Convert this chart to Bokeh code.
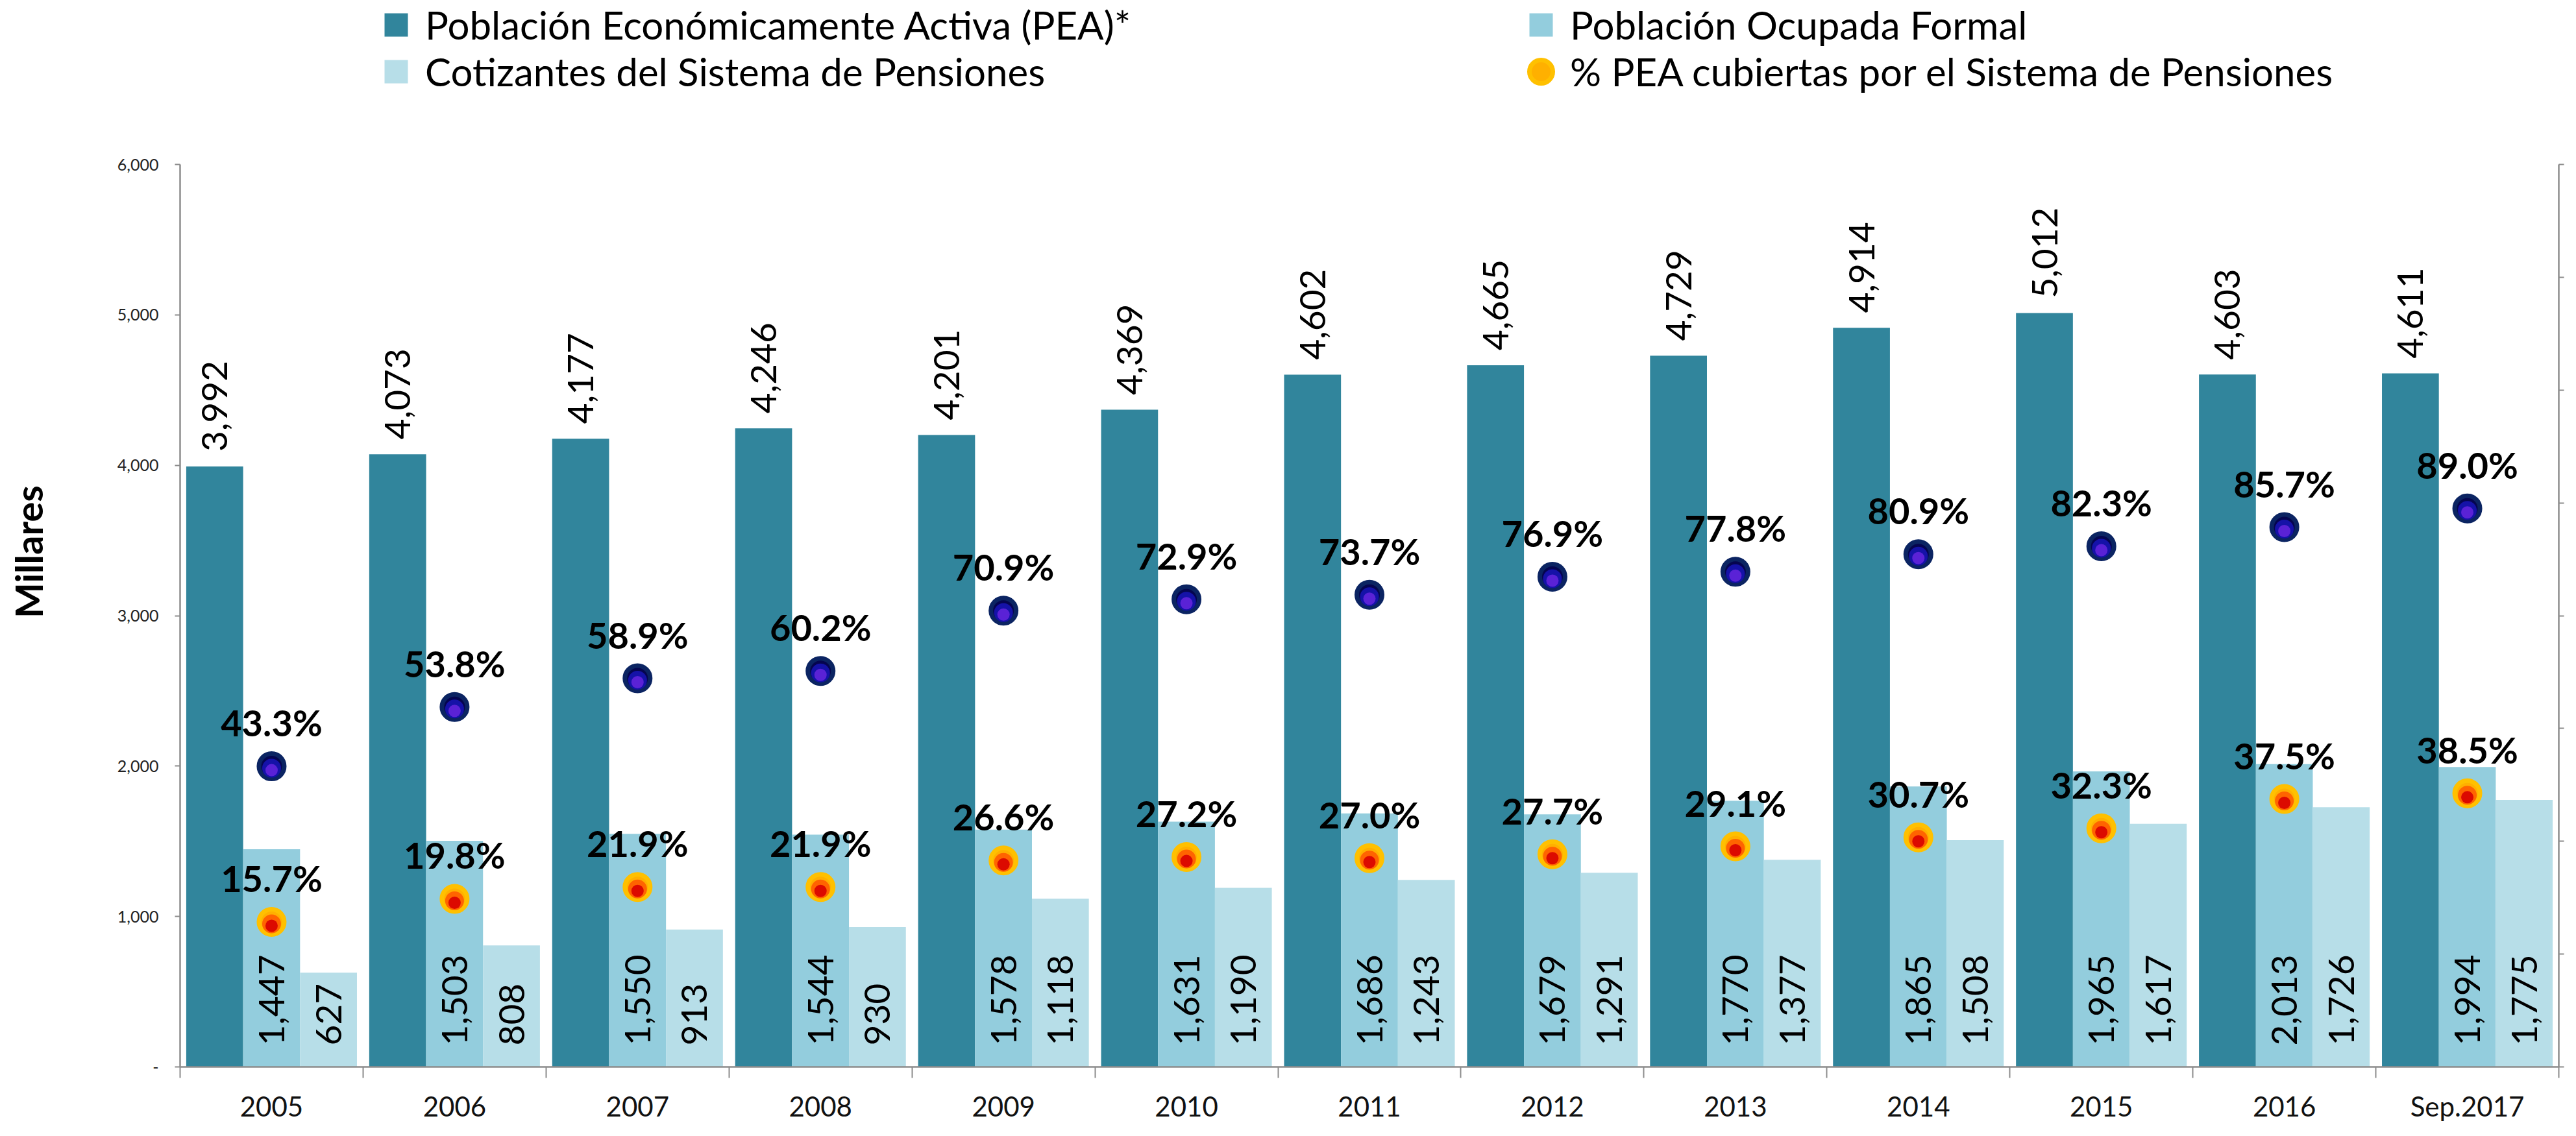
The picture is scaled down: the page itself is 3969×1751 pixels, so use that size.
import math
from bokeh.plotting import figure
from bokeh.models import (ColumnDataSource, Range1d, LinearAxis, FixedTicker, LabelSet,
                          Legend, LegendItem, NumeralTickFormatter, CustomJSTickFormatter)
from bokeh.core.properties import value
from bokeh.embed import file_html
from bokeh.resources import INLINE

# ---------------- data ----------------
categories = ["2005", "2006", "2007", "2008", "2009", "2010", "2011", "2012",
              "2013", "2014", "2015", "2016", "Sep.2017"]
pea = [3992, 4073, 4177, 4246, 4201, 4369, 4602, 4665, 4729, 4914, 5012, 4603, 4611]
ocupada = [1447, 1503, 1550, 1544, 1578, 1631, 1686, 1679, 1770, 1865, 1965, 2013, 1994]
cotizantes = [627, 808, 913, 930, 1118, 1190, 1243, 1291, 1377, 1508, 1617, 1726, 1775]
pct_cotiz_ocupada = [43.3, 53.8, 58.9, 60.2, 70.9, 72.9, 73.7, 76.9, 77.8, 80.9, 82.3, 85.7, 89.0]
pct_cotiz_pea = [15.7, 19.8, 21.9, 21.9, 26.6, 27.2, 27.0, 27.7, 29.1, 30.7, 32.3, 37.5, 38.5]
y_ticks = [0, 1000, 2000, 3000, 4000, 5000, 6000]
pct_ticks = [-10, 10, 30, 50, 70, 90, 110, 130, 150]

# ---------------- layout constants (reference pixel coords) ----------------
W, H = 3953, 1735
OFF = 8
FL, FT, FR, FB = 285, 261, 3950, 1652     # axis box in the reference
FH = FB - FT
FRAME_BOTTOM = FB - OFF                   # figure coords; frame runs from top of canvas
Y_MAX, PCT_MIN, PCT_MAX = 6000, -10, 150
y_top = Y_MAX * FRAME_BOTTOM / FH
pct_top = PCT_MIN + (PCT_MAX - PCT_MIN) * FRAME_BOTTOM / FH
upp = (PCT_MAX - PCT_MIN) / FH            # pct units per pixel
BW = 0.311

C_PEA = "#31859C"
C_OCU = "#93CDDD"
C_COT = "#B7DEE8"
AX = "#8C8C8C"

n = len(categories)
xc = [i + 0.5 for i in range(n)]
src = ColumnDataSource(dict(
    x=xc,
    x_pea=[v - BW for v in xc], x_ocu=xc, x_cot=[v + BW for v in xc],
    pea=pea, ocu=ocupada, cot=cotizantes,
    zero=[0] * n,
    pea_txt=[f"{v:,}" for v in pea],
    ocu_txt=[f"{v:,}" for v in ocupada],
    cot_txt=[f"{v:,}" for v in cotizantes],
    pb=pct_cotiz_ocupada, po=pct_cotiz_pea,
    pb1=[v - 3 * upp for v in pct_cotiz_ocupada], pb2=[v - 6 * upp for v in pct_cotiz_ocupada],
    po1=[v - 3 * upp for v in pct_cotiz_pea], po2=[v - 6 * upp for v in pct_cotiz_pea],
    pb_txt=[f"{v:.1f}%" for v in pct_cotiz_ocupada],
    po_txt=[f"{v:.1f}%" for v in pct_cotiz_pea],
))

p = figure(width=W, height=H, x_range=Range1d(0, n), y_range=Range1d(0, y_top),
           output_backend="svg", toolbar_location=None, x_axis_type=None, y_axis_type=None,
           min_border_left=FL - OFF, min_border_right=W - (FR - OFF),
           min_border_top=0, min_border_bottom=H - FRAME_BOTTOM)
p.extra_y_ranges = {"pct": Range1d(PCT_MIN, pct_top)}
p.outline_line_color = None
p.background_fill_color = "white"
p.border_fill_color = "white"

# axes
yax = LinearAxis(ticker=FixedTicker(ticks=y_ticks), formatter=NumeralTickFormatter(format="0,0"),
                 bounds=(0, Y_MAX))
yax.major_label_overrides = {0: "-"}
yax.major_label_text_font = "Lato"
yax.major_label_text_font_size = "25px"
yax.major_label_text_color = "#222222"
yax.major_label_standoff = 25
yax.major_tick_out = 8
yax.major_tick_in = 0
yax.minor_tick_out = 0
yax.axis_line_color = AX
yax.axis_line_width = 2.5
yax.major_tick_line_color = AX
yax.major_tick_line_width = 2
yax.axis_label = "Millares" + "\u00a0" * 4
yax.axis_label_text_font = "Lato"
yax.axis_label_text_font_style = "bold"
yax.axis_label_text_font_size = "58px"
yax.axis_label_text_color = "black"
yax.axis_label_standoff = 100
p.add_layout(yax, "left")

rax = LinearAxis(y_range_name="pct", ticker=FixedTicker(ticks=pct_ticks),
                 formatter=CustomJSTickFormatter(code="return ''"), bounds=(PCT_MIN, PCT_MAX))
rax.major_label_standoff = 0
rax.major_tick_out = 8
rax.major_tick_in = 0
rax.minor_tick_out = 0
rax.axis_line_color = AX
rax.axis_line_width = 2.5
rax.major_tick_line_color = AX
rax.major_tick_line_width = 2
p.add_layout(rax, "right")

xax = LinearAxis(ticker=FixedTicker(ticks=xc, minor_ticks=list(range(n + 1))))
xax.major_label_overrides = {xc[i]: categories[i] for i in range(n)}
xax.major_label_text_font = "Lato"
xax.major_label_text_font_size = "42px"
xax.major_label_text_color = "#111111"
xax.major_label_standoff = 18
xax.major_tick_out = 0
xax.major_tick_in = 0
xax.minor_tick_out = 17
xax.minor_tick_in = 0
xax.minor_tick_line_color = AX
xax.minor_tick_line_width = 2
xax.axis_line_color = AX
xax.axis_line_width = 2.5
p.add_layout(xax, "below")

p.xgrid.visible = False
p.ygrid.visible = False

# bars
p.vbar(x="x_pea", top="pea", width=BW, source=src, fill_color=C_PEA, line_color=None)
p.vbar(x="x_ocu", top="ocu", width=BW, source=src, fill_color=C_OCU, line_color=None)
p.vbar(x="x_cot", top="cot", width=BW, source=src, fill_color=C_COT, line_color=None)

num_style = dict(angle=math.pi / 2, text_align="left", text_baseline="middle",
                 text_font=value("Lato"), text_font_size=value("55px"), text_color="black")
p.add_layout(LabelSet(x="x_pea", y="pea", text="pea_txt", y_offset=23, source=src, **num_style))
p.add_layout(LabelSet(x="x_ocu", y="zero", text="ocu_txt", y_offset=33, source=src, **num_style))
p.add_layout(LabelSet(x="x_cot", y="zero", text="cot_txt", y_offset=33, source=src, **num_style))

# dots (layered for a gradient look)
blue = p.scatter(x="x", y="pb", y_range_name="pct", source=src, size=39,
                 fill_color="#05054F", line_color="#0B2462", line_width=7)
p.scatter(x="x", y="pb1", y_range_name="pct", source=src, size=29, fill_color="#1512A8", line_color=None)
p.scatter(x="x", y="pb2", y_range_name="pct", source=src, size=19, fill_color="#5A22D6", line_color=None)

orange = p.scatter(x="x", y="po", y_range_name="pct", source=src, size=39,
                   fill_color="#FFB000", line_color="#FFC000", line_width=7)
p.scatter(x="x", y="po1", y_range_name="pct", source=src, size=29, fill_color="#FF6400", line_color=None)
p.scatter(x="x", y="po2", y_range_name="pct", source=src, size=19, fill_color="#DC0A00", line_color=None)

pct_style = dict(text_align="center", text_baseline="alphabetic", y_offset=46,
                 text_font=value("Lato"), text_font_size=value("56px"),
                 text_font_style="bold", text_color="black")
p.add_layout(LabelSet(x="x", y="pb", y_range_name="pct", text="pb_txt", source=src, **pct_style))
p.add_layout(LabelSet(x="x", y="po", y_range_name="pct", text="po_txt", source=src, **pct_style))

# legend proxies: zero-size square markers (only the legend draws them)
sq_pea = p.scatter(x="x_pea", y="pea", source=src, marker="square", size=0,
                   fill_color=C_PEA, line_color=None)
sq_ocu = p.scatter(x="x_ocu", y="ocu", source=src, marker="square", size=0,
                   fill_color=C_OCU, line_color=None)
sq_cot = p.scatter(x="x_cot", y="cot", source=src, marker="square", size=0,
                   fill_color=C_COT, line_color=None)

BOX = 90


def add_legend(renderer, label, cx, cy, tx):
    # cx, cy: centre of the legend symbol; tx: start of its text (reference pixels)
    leg = Legend(items=[LegendItem(label=label, renderers=[renderer])],
                 location=(cx - BOX / 2 - FL, FRAME_BOTTOM - (cy - OFF + BOX / 2)),
                 glyph_width=BOX, glyph_height=BOX, label_standoff=int(tx - (cx + BOX / 2)),
                 label_text_font="Lato", label_text_font_size="60px", label_text_color="black",
                 label_height=BOX, padding=0, margin=0, spacing=0,
                 border_line_color=None, background_fill_alpha=0)
    p.add_layout(leg, "center")


add_legend(sq_pea, "Población Económicamente Activa (PEA)*", 618, 46, 654)
add_legend(sq_cot, "Cotizantes del Sistema de Pensiones", 618, 118, 654)
add_legend(sq_ocu, "Población Ocupada Formal", 2382, 46, 2420)
add_legend(orange, "% PEA cubiertas por el Sistema de Pensiones", 2382, 118, 2420)

open("out.html", "w").write(file_html(p, INLINE))
